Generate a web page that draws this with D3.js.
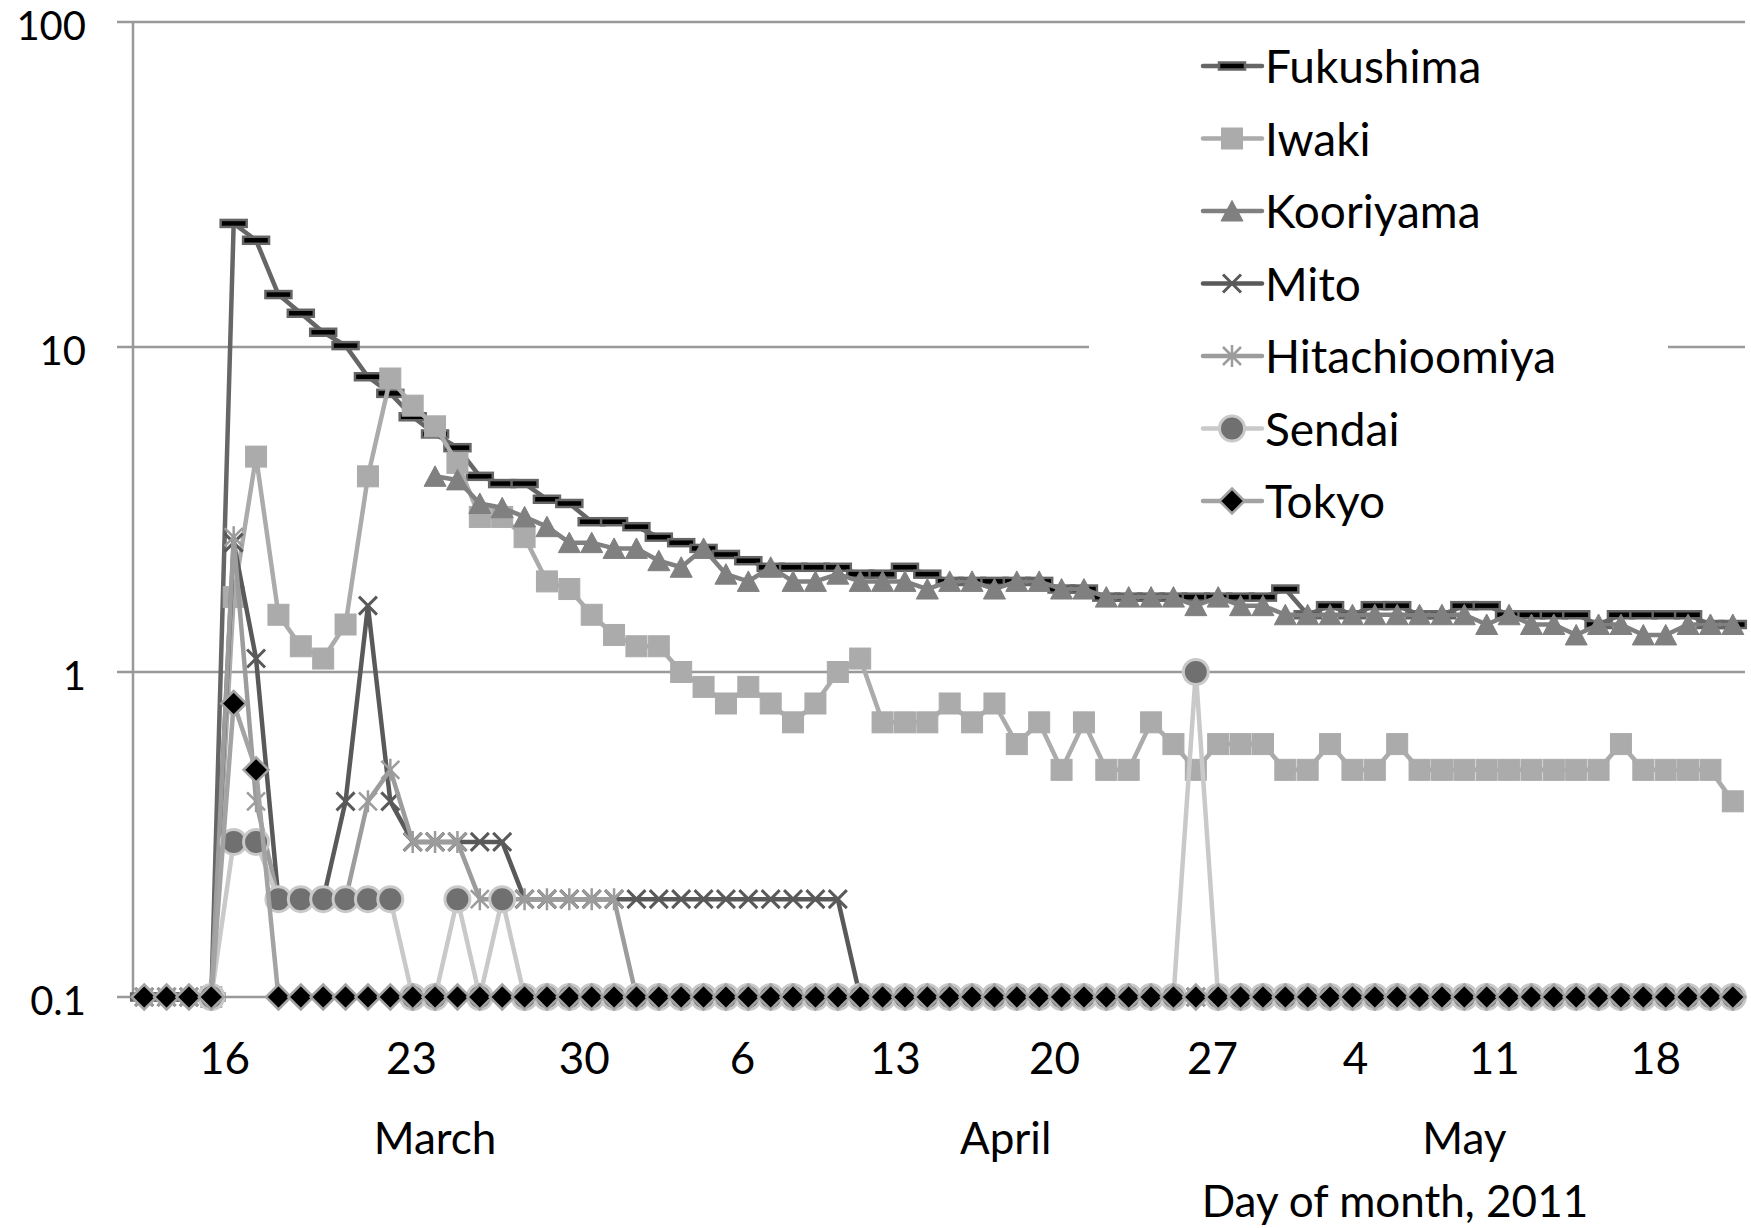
<!DOCTYPE html>
<html><head><meta charset="utf-8">
<script src="https://cdn.jsdelivr.net/npm/d3@7"></script>
<style>
body{margin:0;background:#fff;}
svg text{font-family:Lato,"Open Sans",sans-serif;fill:#000;}
</style>
</head><body>
<svg id="chart" width="1751" height="1228"></svg>
<script>
// ---------- DATA (index 0 = 11 March 2011, one value per day, 72 days) ----------
const nDays = 72;
const seriesNames = ["Fukushima","Iwaki","Kooriyama","Mito","Hitachioomiya","Sendai","Tokyo"];

const fukushima = [
  0.1,0.1,0.1,0.1,24,21.3,14.5,12.7,11.1,10.1,
  8.1,7.2,6.1,5.4,4.9,4.0,3.8,3.8,3.4,3.3,
  2.9,2.9,2.8,2.6,2.5,2.4,2.3,2.2,2.1,2.1,
  2.1,2.1,2.0,2.0,2.1,2.0,1.9,1.9,1.9,1.9,
  1.9,1.8,1.8,1.7,1.7,1.7,1.7,1.7,1.7,1.7,
  1.7,1.8,1.5,1.6,1.5,1.6,1.6,1.5,1.5,1.6,
  1.6,1.5,1.5,1.5,1.5,1.4,1.5,1.5,1.5,1.5,
  1.4,1.4];
const iwaki = [
  null,null,null,0.1,1.7,4.6,1.5,1.2,1.1,1.4,
  4.0,8.0,6.6,5.7,4.4,3.0,3.0,2.6,1.9,1.8,
  1.5,1.3,1.2,1.2,1.0,0.9,0.8,0.9,0.8,0.7,
  0.8,1.0,1.1,0.7,0.7,0.7,0.8,0.7,0.8,0.6,
  0.7,0.5,0.7,0.5,0.5,0.7,0.6,0.5,0.6,0.6,
  0.6,0.5,0.5,0.6,0.5,0.5,0.6,0.5,0.5,0.5,
  0.5,0.5,0.5,0.5,0.5,0.5,0.6,0.5,0.5,0.5,
  0.5,0.4];
const kooriyama = [
  null,null,null,null,null,null,null,null,null,null,
  null,null,null,4.0,3.9,3.3,3.2,3.0,2.8,2.5,
  2.5,2.4,2.4,2.2,2.1,2.4,2.0,1.9,2.1,1.9,
  1.9,2.0,1.9,1.9,1.9,1.8,1.9,1.9,1.8,1.9,
  1.9,1.8,1.8,1.7,1.7,1.7,1.7,1.6,1.7,1.6,
  1.6,1.5,1.5,1.5,1.5,1.5,1.5,1.5,1.5,1.5,
  1.4,1.5,1.4,1.4,1.3,1.4,1.4,1.3,1.3,1.4,
  1.4,1.4];
const mito = [
  0.1,0.1,0.1,0.1,2.5,1.1,0.2,0.2,0.2,0.4,
  1.6,0.4,0.3,0.3,0.3,0.3,0.3,0.2,0.2,0.2,
  0.2,0.2,0.2,0.2,0.2,0.2,0.2,0.2,0.2,0.2,
  0.2,0.2,0.1,0.1,0.1,0.1,0.1,0.1,0.1,0.1,
  0.1,0.1,0.1,0.1,0.1,0.1,0.1,0.1,0.1,0.1,
  0.1,0.1,0.1,0.1,0.1,0.1,0.1,0.1,0.1,0.1,
  0.1,0.1,0.1,0.1,0.1,0.1,0.1,0.1,0.1,0.1,
  0.1,0.1];
const hitachioomiya = [
  0.1,0.1,0.1,0.1,2.6,0.4,0.2,0.2,0.2,0.2,
  0.4,0.5,0.3,0.3,0.3,0.2,0.2,0.2,0.2,0.2,
  0.2,0.2,0.1,0.1,0.1,0.1,0.1,0.1,0.1,0.1,
  0.1,0.1,0.1,0.1,0.1,0.1,0.1,0.1,0.1,0.1,
  0.1,0.1,0.1,0.1,0.1,0.1,0.1,0.1,0.1,0.1,
  0.1,0.1,0.1,0.1,0.1,0.1,0.1,0.1,0.1,0.1,
  0.1,0.1,0.1,0.1,0.1,0.1,0.1,0.1,0.1,0.1,
  0.1,0.1];
const sendai = [
  null,null,null,0.1,0.3,0.3,0.2,0.2,0.2,0.2,
  0.2,0.2,0.1,0.1,0.2,0.1,0.2,0.1,0.1,0.1,
  0.1,0.1,0.1,0.1,0.1,0.1,0.1,0.1,0.1,0.1,
  0.1,0.1,0.1,0.1,0.1,0.1,0.1,0.1,0.1,0.1,
  0.1,0.1,0.1,0.1,0.1,0.1,0.1,1.0,0.1,0.1,
  0.1,0.1,0.1,0.1,0.1,0.1,0.1,0.1,0.1,0.1,
  0.1,0.1,0.1,0.1,0.1,0.1,0.1,0.1,0.1,0.1,
  0.1,0.1];
const tokyo = [
  0.1,0.1,0.1,0.1,0.8,0.5,0.1,0.1,0.1,0.1,
  0.1,0.1,0.1,0.1,0.1,0.1,0.1,0.1,0.1,0.1,
  0.1,0.1,0.1,0.1,0.1,0.1,0.1,0.1,0.1,0.1,
  0.1,0.1,0.1,0.1,0.1,0.1,0.1,0.1,0.1,0.1,
  0.1,0.1,0.1,0.1,0.1,0.1,0.1,0.1,0.1,0.1,
  0.1,0.1,0.1,0.1,0.1,0.1,0.1,0.1,0.1,0.1,
  0.1,0.1,0.1,0.1,0.1,0.1,0.1,0.1,0.1,0.1,
  0.1,0.1];

const yTicks = [0.1, 1, 10, 100];
const yTickLabels = ["0.1", "1", "10", "100"];
// day-of-month labels and the (day index) positions where they sit under the axis
const xTickLabels = ["16","23","30","6","13","20","27","4","11","18"];
const xTickAt = [3.57, 11.92, 19.65, 26.72, 33.55, 40.66, 47.72, 54.11, 60.32, 67.52];
const monthLabels = ["March","April","May"];
const monthAt = [13.0, 38.5, 59.0];
const axisTitle = "Day of month, 2011";
const axisTitleAt = 55.9;

const seriesValues = [fukushima, iwaki, kooriyama, mito, hitachioomiya, sendai, tokyo];

// ---------- STYLE ----------
const styles = [
  {line:"#666666", marker:"dash",     fill:"#000000", stroke:"#666666"},
  {line:"#ababab", marker:"square",   fill:"#ababab", stroke:"#ababab"},
  {line:"#808080", marker:"triangle", fill:"#808080", stroke:"#808080"},
  {line:"#595959", marker:"x",        fill:"none",    stroke:"#595959"},
  {line:"#9c9c9c", marker:"star",     fill:"none",    stroke:"#9c9c9c"},
  {line:"#c9c9c9", marker:"circle",   fill:"#707070", stroke:"#c9c9c9"},
  {line:"#a3a3a3", marker:"diamond",  fill:"#000000", stroke:"#a3a3a3"}
];

const W = 1751, H = 1228;
const plot = {left:133, right:1745, top:22, bottom:997};

const svg = d3.select("#chart");
svg.append("rect").attr("width",W).attr("height",H).attr("fill","#fff");

const x = d3.scaleLinear().domain([-0.5, nDays - 0.5]).range([plot.left, plot.right - 1]);
const y = d3.scaleLog().domain([0.1, 100]).range([plot.bottom, plot.top]);

// gridlines (also act as outer ticks)
svg.append("g").selectAll("line").data(yTicks).join("line")
  .attr("x1", plot.left - 16).attr("x2", plot.right)
  .attr("y1", d => y(d)).attr("y2", d => y(d))
  .attr("stroke", "#999").attr("stroke-width", 2.5);
// vertical axis line
svg.append("line").attr("x1", plot.left).attr("x2", plot.left)
  .attr("y1", y(100)).attr("y2", y(0.1)).attr("stroke","#999").attr("stroke-width",2.5);

// y labels
const yAxis = d3.axisLeft(y).tickValues(yTicks)
  .tickFormat(d => yTickLabels[yTicks.indexOf(d)]).tickSize(0).tickPadding(47);
const gy = svg.append("g").attr("transform", `translate(${plot.left},0)`).call(yAxis);
gy.select(".domain").remove();
gy.selectAll("text").attr("font-size", 40).attr("dy", "0.44em")
  .style("font-family","Lato,sans-serif").attr("fill","#000");

// x labels
const xAxis = d3.axisBottom(x).tickValues(xTickAt)
  .tickFormat((d, i) => xTickLabels[i]).tickSize(0);
const gx = svg.append("g").attr("transform", `translate(0,${plot.bottom})`).call(xAxis);
gx.select(".domain").remove();
gx.selectAll("text").attr("font-size", 44).attr("y", 77).attr("dy", null)
  .style("font-family","Lato,sans-serif").attr("fill","#000");

svg.append("g").selectAll("text").data(monthLabels).join("text")
  .attr("x", (d, i) => x(monthAt[i])).attr("y", 1154)
  .attr("text-anchor","middle").attr("font-size", 44).text(d => d);
svg.append("text").attr("x", x(axisTitleAt)).attr("y", 1217)
  .attr("text-anchor","middle").attr("font-size", 44).text(axisTitle);

// legend background (white, hides the gridline behind it)
const legend = {x0:1089, x1:1668, y0:32, y1:545};
svg.append("rect").attr("x", legend.x0).attr("y", legend.y0)
  .attr("width", legend.x1 - legend.x0).attr("height", legend.y1 - legend.y0).attr("fill","#fff");

// ---------- MARKERS ----------
function drawMarker(g, type, st) {
  switch (type) {
    case "dash":
      g.append("rect").attr("x",-13).attr("y",-3.5).attr("width",26).attr("height",7)
        .attr("fill",st.fill).attr("stroke",st.stroke).attr("stroke-width",2.5); break;
    case "square":
      g.append("rect").attr("x",-10.5).attr("y",-10.5).attr("width",21).attr("height",21)
        .attr("fill",st.fill).attr("stroke",st.stroke).attr("stroke-width",1); break;
    case "triangle":
      g.append("path").attr("d","M0,-10.5L11,10L-11,10Z")
        .attr("fill",st.fill).attr("stroke",st.stroke).attr("stroke-width",1); break;
    case "x":
      g.append("path").attr("d","M-9,-9L9,9M-9,9L9,-9")
        .attr("fill","none").attr("stroke",st.stroke).attr("stroke-width",3); break;
    case "star":
      g.append("path").attr("d","M-9,-9L9,9M-9,9L9,-9M0,-11L0,11")
        .attr("fill","none").attr("stroke",st.stroke).attr("stroke-width",2.5); break;
    case "circle":
      g.append("circle").attr("r",12.5)
        .attr("fill",st.fill).attr("stroke",st.stroke).attr("stroke-width",3); break;
    case "diamond":
      g.append("path").attr("d","M0,-12.5L12.5,0L0,12.5L-12.5,0Z")
        .attr("fill",st.fill).attr("stroke",st.stroke).attr("stroke-width",2.5); break;
  }
}

// ---------- SERIES ----------
const line = d3.line()
  .defined(d => d != null)
  .x(d => x(d.i)).y(d => y(d.v));

seriesValues.forEach((vals, s) => {
  const st = styles[s];
  const pts = vals.map((v, i) => v == null ? null : {i, v});
  const g = svg.append("g").attr("class","series");
  g.append("path").datum(pts).attr("d", line)
    .attr("fill","none").attr("stroke", st.line).attr("stroke-width", 4.5)
    .attr("stroke-linejoin","round").attr("stroke-linecap","round");
  g.selectAll("g.m").data(pts.filter(p => p)).join("g").attr("class","m")
    .attr("transform", p => `translate(${x(p.i)},${y(p.v)})`)
    .each(function() { drawMarker(d3.select(this), st.marker, st); });
});

// ---------- LEGEND ----------
seriesNames.forEach((name, k) => {
  const st = styles[k];
  const cy = 66 + 72.5 * k;
  const g = svg.append("g");
  g.append("line").attr("x1",1203).attr("x2",1262).attr("y1",cy).attr("y2",cy)
    .attr("stroke", st.line).attr("stroke-width",4.5).attr("stroke-linecap","round");
  const m = g.append("g").attr("transform", `translate(1232,${cy})`);
  drawMarker(m, st.marker, st);
  g.append("text").attr("x",1265).attr("y",cy + 17).attr("font-size",46).text(name);
});
</script>
</body></html>
